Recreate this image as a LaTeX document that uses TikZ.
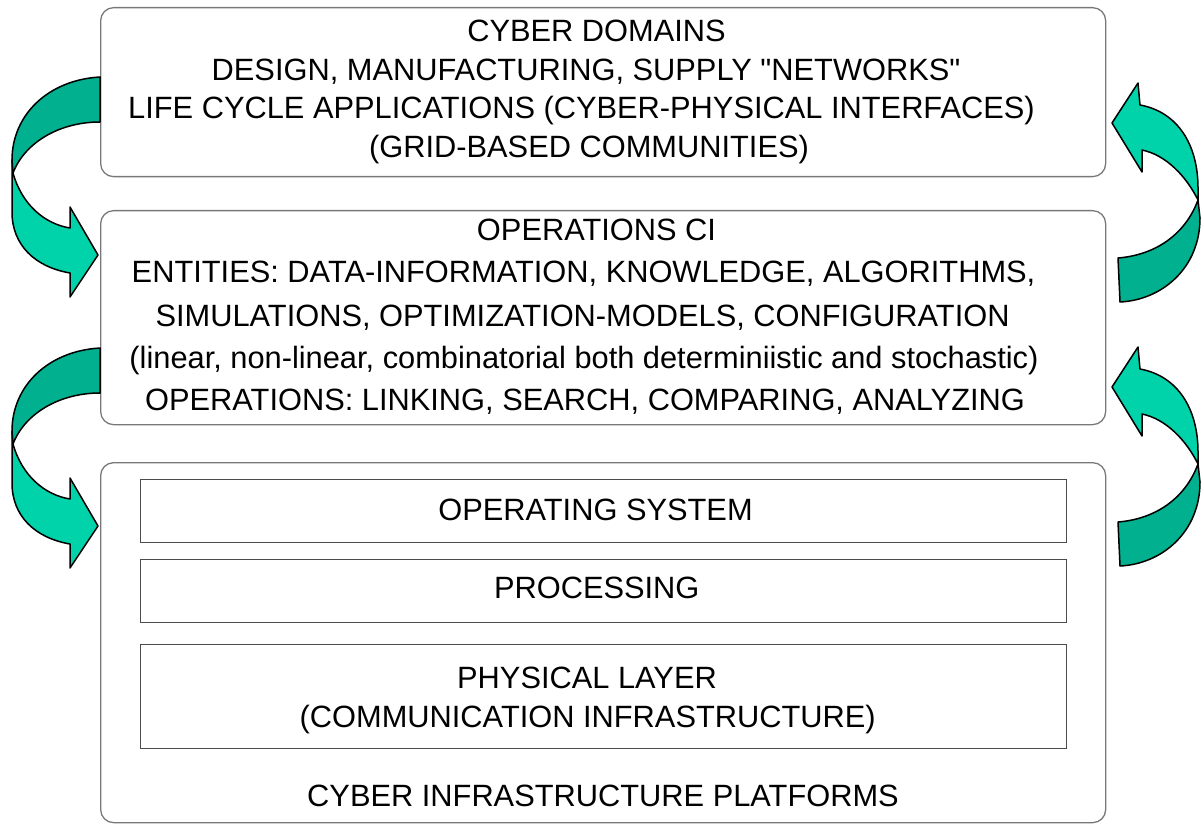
\documentclass[tikz,border=0pt]{standalone}
\usepackage{fontspec}
\setmainfont{Liberation Sans}[Ligatures=TeXOff]
\definecolor{tealL}{RGB}{0,210,170}
\definecolor{tealD}{RGB}{0,176,142}
\definecolor{frame}{RGB}{120,120,120}
\begin{document}
\begin{tikzpicture}[x=1pt,y=-1pt,
  panel/.style={draw=frame, line width=1.3pt, rounded corners=13pt, anchor=north west, inner sep=0pt},
  layer/.style={draw=black!70, line width=1.1pt, anchor=north west, inner sep=0pt},
  txt/.style={font=\fontsize{30.8}{36}\selectfont, anchor=base, inner sep=0pt},
  lightpart/.style={fill=tealL, draw=black, line width=1.5pt, line join=round},
  darkpart/.style={fill=tealD, draw=black, line width=1.5pt, line join=round}]
\useasboundingbox (0,0) rectangle (1204,826);

% three stacked panels
\node[panel, minimum width=1005pt, minimum height=169pt] (domains) at (100,7) {};
\node[panel, minimum width=1005pt, minimum height=214pt] (ops) at (100,210) {};
\node[panel, minimum width=1005pt, minimum height=360pt] (platforms) at (100,462) {};

% layers inside the platform panel
\node[layer, minimum width=926pt, minimum height=63pt] (os) at (140,479) {};
\node[layer, minimum width=926pt, minimum height=63pt] (proc) at (140,559) {};
\node[layer, minimum width=926pt, minimum height=104pt] (phys) at (140,644) {};

% panel texts
\node[txt] (d1) at (596.5,42) {CYBER DOMAINS};
\node[txt] (d2) at (586,80.5) {DESIGN, MANUFACTURING, SUPPLY "NETWORKS"};
\node[txt] (d3) at (581.5,119) {LIFE CYCLE APPLICATIONS (CYBER-PHYSICAL INTERFACES)};
\node[txt] (d4) at (589,158) {(GRID-BASED COMMUNITIES)};

\node[txt] (o1) at (596.5,241) {OPERATIONS CI};
\node[txt] (o2) at (583.5,283) {ENTITIES: DATA-INFORMATION, KNOWLEDGE, ALGORITHMS,};
\node[txt] (o3) at (582.5,326) {SIMULATIONS, OPTIMIZATION-MODELS, CONFIGURATION};
\node[txt] (o4) at (584,368) {(linear, non-linear, combinatorial both determiniistic and stochastic)};
\node[txt] (o5) at (585,410) {OPERATIONS: LINKING, SEARCH, COMPARING, ANALYZING};

\node[txt] (t1) at (595.5,520) {OPERATING SYSTEM};
\node[txt] (t2) at (596.7,598) {PROCESSING};
\node[txt] (t3) at (587,688) {PHYSICAL LAYER};
\node[txt] (t4) at (587.7,727) {(COMMUNICATION INFRASTRUCTURE)};
\node[txt] (t5) at (603,806) {CYBER INFRASTRUCTURE PLATFORMS};

% curled arrows on the left, pointing down
\foreach \dy in {0,271} {
  \begin{scope}[yshift=-\dy pt]
    \path[lightpart] (13,173) .. controls (22,205) and (45,224) .. (70,228)
      -- (70,207) -- (98,255) -- (70,297) -- (70,273)
      .. controls (35,267) and (12,245) .. (12,212) -- (12,160) -- cycle;
    \path[darkpart] (100,77) .. controls (48,80) and (12,115) .. (12,160)
      -- (13,173) .. controls (25,142) and (60,122) .. (100,122) -- cycle;
  \end{scope}
}

% curled arrows on the right, pointing up
\foreach \dy in {0,264} {
  \begin{scope}[yshift=-\dy pt]
    \path[lightpart] (1112,123) -- (1138,83) -- (1140,105)
      .. controls (1178,112) and (1198,145) .. (1198,188) -- (1198,200)
      .. controls (1186,176) and (1166,155) .. (1142,150) -- (1142,172) -- cycle;
    \path[darkpart] (1198,200) -- (1200,218)
      .. controls (1200,268) and (1162,300) .. (1120,302) -- (1118,258)
      .. controls (1155,255) and (1185,235) .. (1198,200) -- cycle;
  \end{scope}
}
\end{tikzpicture}
\end{document}
